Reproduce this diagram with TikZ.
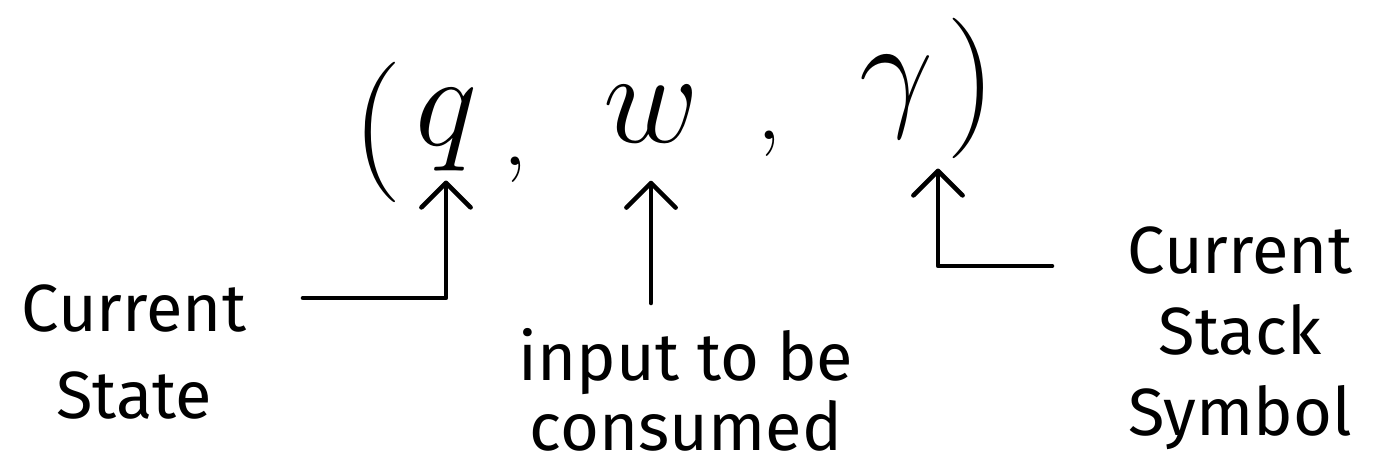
\RequirePackage{fix-cm}
\documentclass[tikz,border=0pt]{standalone}
\usepackage{fontspec}
\setmainfont{Fira Sans}
\usetikzlibrary{arrows.meta}
\usetikzlibrary{positioning}

\begin{document}
\begin{tikzpicture}[x=0.02cm,y=-0.02cm,
    sym/.style={inner sep=0pt,font=\fontsize{75}{75}\selectfont},
    brak/.style={inner sep=0pt,font=\fontsize{80}{80}\selectfont},
    sep/.style={inner sep=0pt,font=\fontsize{50}{50}\selectfont},
    lbl/.style={inner sep=0pt,align=center,font=\fontsize{38}{44}\selectfont},
    pointer/.style={line width=2.6pt,line cap=round,line join=round,
      -{Straight Barb[length=14pt,width=28pt,round]}}]
   \useasboundingbox (0,0) rectangle (1382,469);
   % the triple
   \node[brak] (lpar) at (377,132) {$($};
   \node[sym]  (q)    at (446,130) {$q$};
   \node[sep]  (c_1)  at (515,170) {$,$};
   \node[sym]  (w)    at (651,114) {$w$};
   \node[sep]  (c_2)  at (769,144) {$,$};
   \node[sym]  (gam)  at (897,97)  {$\gamma$};
   \node[brak] (rpar) at (971,88)  {$)$};
   % what each part means
   \node[lbl] (state) at (134,352) {Current\\[5pt]State};
   \node[lbl] (input) at (686,390) {input to be\\[-4pt]consumed};
   \node[lbl] (stack) at (1240,338) {Current\\[2pt]Stack\\[2pt]Symbol};
   \coordinate (state_foot) at (303,298);
   \coordinate (input_foot) at (651,303);
   \coordinate (stack_foot) at (1052,266);
    \draw[pointer] (state_foot) -| ([yshift=-0.18cm]q.south);
    \draw[pointer] (input_foot) -- ([yshift=-0.76cm]w.south);
    \draw[pointer] (stack_foot) -| ([xshift=0.82cm,yshift=-0.6cm]gam.south);
\end{tikzpicture}
\end{document}
